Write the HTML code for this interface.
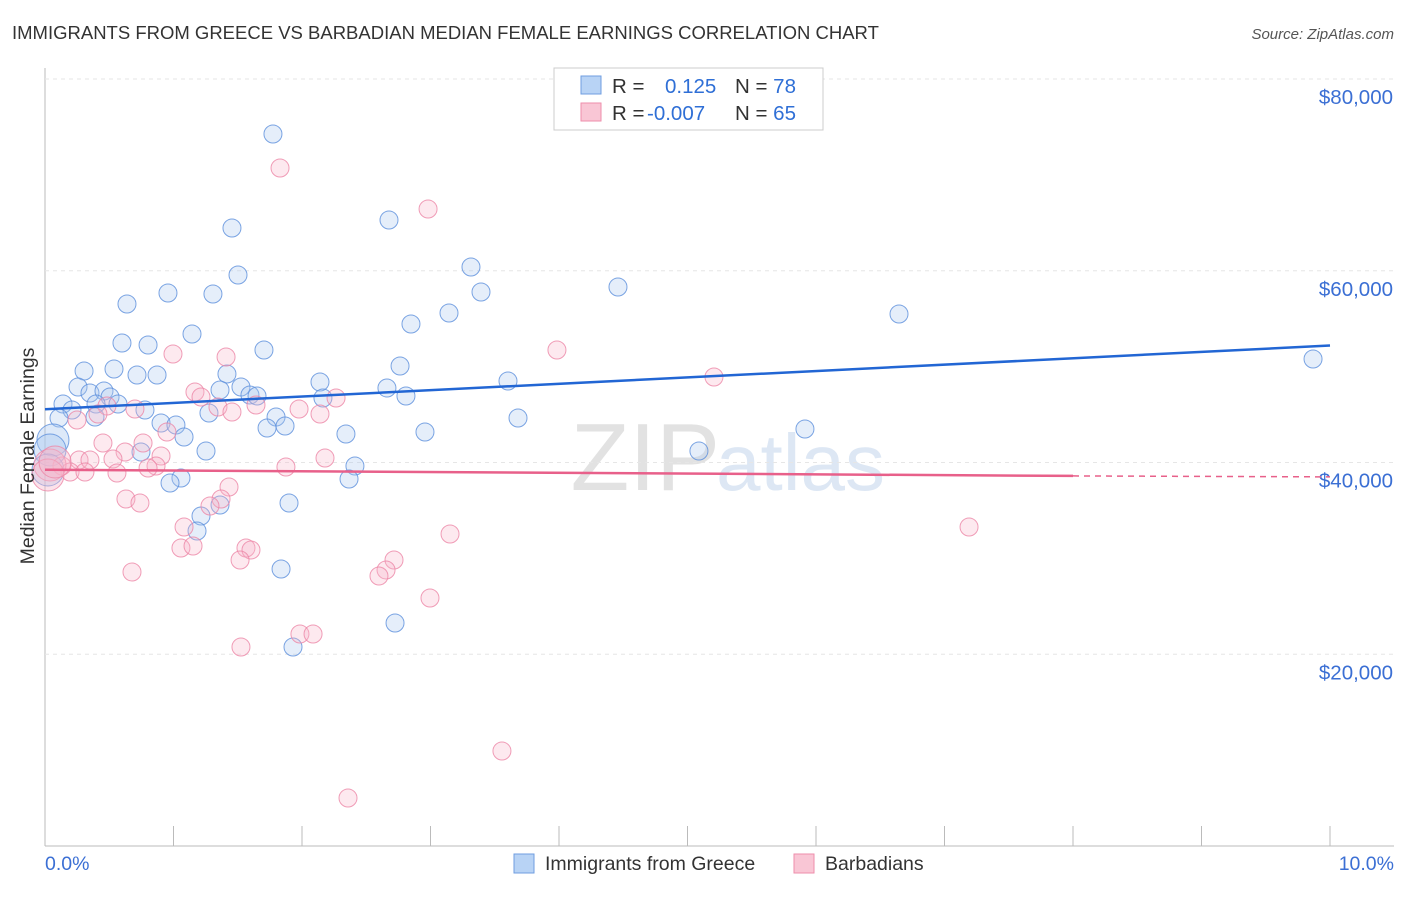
<!DOCTYPE html>
<html><head><meta charset="utf-8"><style>
body{margin:0;background:#fff;font-family:"Liberation Sans",sans-serif}
svg text{font-family:"Liberation Sans",sans-serif}
</style></head><body>
<svg id="c" width="1406" height="892" xmlns="http://www.w3.org/2000/svg">
<text x="12" y="39" font-size="18.5" fill="#333">IMMIGRANTS FROM GREECE VS BARBADIAN MEDIAN FEMALE EARNINGS CORRELATION CHART</text>
<text x="1394" y="39" font-size="15" fill="#555" font-style="italic" text-anchor="end">Source: ZipAtlas.com</text>
<text x="720" y="490" font-size="96" fill="#e2e2e2" text-anchor="end" font-family="Liberation Serif">ZIP</text>
<text x="716" y="490" font-size="80" fill="#dde7f4">atlas</text>
<g id="grid"></g><g id="pts"></g><g id="lines"></g>
<text transform="translate(34,456) rotate(-90)" font-size="19.5" fill="#333" text-anchor="middle">Median Female Earnings</text>
<text x="45" y="870" font-size="19.5" fill="#3b6fd4">0.0%</text>
<text x="1394" y="870" font-size="19.5" fill="#3b6fd4" text-anchor="end">10.0%</text>
<g>
<rect x="554" y="68" width="269" height="62" fill="#fff" stroke="#ccc"/>
<rect x="581" y="76" width="20" height="18" fill="#b8d3f5" stroke="#6f9ee0"/>
<rect x="581" y="103" width="20" height="18" fill="#f9c6d5" stroke="#ee8eab"/>
<text x="612" y="93" font-size="20.5" fill="#333">R = <tspan fill="#2f6fd6" x="665">0.125</tspan><tspan x="735" fill="#333">N = </tspan><tspan fill="#2f6fd6">78</tspan></text>
<text x="612" y="120" font-size="20.5" fill="#333">R = <tspan fill="#2f6fd6" x="647">-0.007</tspan><tspan x="735" fill="#333">N = </tspan><tspan fill="#2f6fd6">65</tspan></text>
</g>
<g>
<rect x="514" y="854" width="20" height="19" fill="#b8d3f5" stroke="#6f9ee0"/>
<text x="545" y="870" font-size="19.5" fill="#333">Immigrants from Greece</text>
<rect x="794" y="854" width="20" height="19" fill="#f9c6d5" stroke="#ee8eab"/>
<text x="825" y="870" font-size="19.5" fill="#333">Barbadians</text>
</g>
</svg>
<script>
const yTicks=[20000,40000,60000,80000];
const yTickLabels=["$20,000","$40,000","$60,000","$80,000"];
const xTicks=[0,1,2,3,4,5,6,7,8,9,10];
const bluePx=[[273,134],[232,228],[389,220],[238,275],[471,267],[481,292],[618,287],[127,304],[168,293],[213,294],[449,313],[411,324],[192,334],[899,314],[122,343],[148,345],[264,350],[400,366],[1313,359],[84,371],[114,369],[137,375],[157,375],[227,374],[78,387],[90,393],[104,391],[110,397],[220,390],[241,387],[250,395],[257,396],[320,382],[387,388],[406,396],[508,381],[63,404],[72,410],[96,404],[118,404],[145,410],[59,418],[95,417],[161,423],[176,425],[209,413],[276,417],[323,398],[518,418],[267,428],[285,426],[346,434],[425,432],[805,429],[53,440],[184,437],[141,452],[206,451],[699,451],[355,466],[181,478],[170,483],[349,479],[220,505],[201,516],[289,503],[197,531],[281,569],[395,623],[293,647],[50,450],[48,470]];
const pinkPx=[[605,121],[280,168],[428,209],[557,350],[173,354],[226,357],[714,377],[195,392],[201,397],[336,398],[218,407],[232,412],[256,405],[299,409],[320,414],[135,409],[107,406],[77,420],[98,414],[167,432],[103,443],[143,443],[125,452],[161,456],[156,466],[79,460],[90,460],[62,466],[70,472],[113,459],[148,468],[286,467],[325,458],[117,473],[85,472],[50,465],[229,487],[221,499],[126,499],[140,503],[210,506],[184,527],[450,534],[246,548],[251,550],[181,548],[193,546],[969,527],[394,560],[386,570],[379,576],[240,560],[132,572],[430,598],[300,634],[313,634],[241,647],[502,751],[348,798],[48,475],[55,462]];
const blueX=bluePx.map(p=>+((p[0]-45)/128.5).toFixed(3)), blueY=bluePx.map(p=>Math.round((846-p[1])/0.0095875));
const pinkX=pinkPx.map(p=>+((p[0]-45)/128.5).toFixed(3)), pinkY=pinkPx.map(p=>Math.round((846-p[1])/0.0095875));
const blueTrend=[45550,52200], pinkTrend=[39250,38600,38500];
const X=v=>45+v*128.5, Y=v=>846-v*0.0095875;
const NS="http://www.w3.org/2000/svg";
function mk(t,a,par){const e=document.createElementNS(NS,t);for(const k in a)e.setAttribute(k,a[k]);document.getElementById(par).appendChild(e);return e;}
let e=mk('line',{x1:45,y1:68,x2:45,y2:846,stroke:'#bbb'},'grid');

e=mk('line',{x1:45,y1:846,x2:1394,y2:846,stroke:'#bbb'},'grid');

yTicks.forEach((v,i)=>{
 e=mk('line',{x1:45,x2:1394,y1:Y(v),y2:Y(v),stroke:'#e6e6e6','stroke-dasharray':'4,4'},'grid');
 
 e=mk('text',{x:1393,y:Y(v)+25,'font-size':20.5,fill:'#3b6fd4','text-anchor':'end'},'grid');e.textContent=yTickLabels[i];
 
});
xTicks.forEach(v=>{e=mk('line',{x1:X(v),x2:X(v),y1:826,y2:846,stroke:'#bbb'},'grid');
 });
function dots(xs,ys,f,s,n){xs.forEach((x,i)=>{const big=x<0.1;e=mk('circle',{cx:X(x),cy:Y(ys[i]),r:big?16:9,fill:f,'fill-opacity':big?0.4:0.3,stroke:s,'stroke-opacity':0.8,'stroke-width':1},'pts');
 });}
dots(blueX,blueY,'#a9c8f0','#5b8fdc','greece-point');
dots(pinkX,pinkY,'#f7b6ca','#ec86a6','barbadian-point');
e=mk('line',{x1:X(0),y1:Y(blueTrend[0]),x2:X(10),y2:Y(blueTrend[1]),stroke:'#2266d4','stroke-width':2.5},'lines');

e=mk('line',{x1:X(0),y1:Y(pinkTrend[0]),x2:X(8),y2:Y(pinkTrend[1]),stroke:'#e8608a','stroke-width':2.5},'lines');

e=mk('line',{x1:X(8),y1:Y(pinkTrend[1]),x2:X(10),y2:Y(pinkTrend[2]),stroke:'#e8608a','stroke-width':1.5,'stroke-dasharray':'6,5'},'lines');

</script>
</body></html>
